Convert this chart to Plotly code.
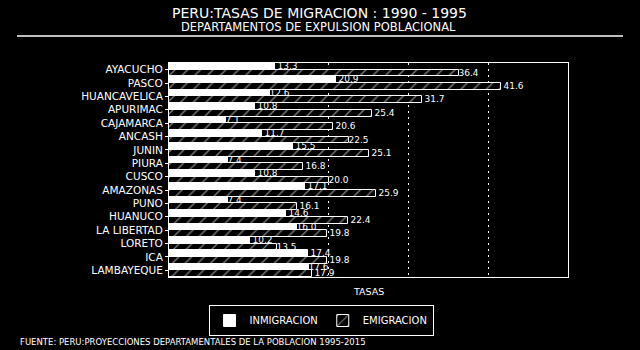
import plotly.graph_objects as go

departamentos = ["AYACUCHO", "PASCO", "HUANCAVELICA", "APURIMAC", "CAJAMARCA", "ANCASH",
                 "JUNIN", "PIURA", "CUSCO", "AMAZONAS", "PUNO", "HUANUCO", "LA LIBERTAD",
                 "LORETO", "ICA", "LAMBAYEQUE"]
inmigracion = [13.3, 20.9, 12.6, 10.8, 7.1, 11.7, 15.5, 7.4, 10.8, 17.1, 7.4, 14.6, 16.0, 10.2, 17.4, 17.6]
emigracion = [36.4, 41.6, 31.7, 25.4, 20.6, 22.5, 25.1, 16.8, 20.0, 25.9, 16.1, 22.4, 19.8, 13.5, 19.8, 17.9]
grid_vals = [20, 30, 40]

FONT = "DejaVu Sans"

fig = go.Figure()
fig.add_trace(go.Bar(
    y=departamentos, x=inmigracion, orientation="h", name="INMIGRACION",
    marker=dict(color="white", line=dict(color="white", width=1)),
    text=[f"{v:.1f}" for v in inmigracion], textposition="outside",
    textfont=dict(family=FONT, size=9, color="white"), cliponaxis=False,
))
fig.add_trace(go.Bar(
    y=departamentos, x=emigracion, orientation="h", name="EMIGRACION",
    marker=dict(color="black", line=dict(color="white", width=1),
                pattern=dict(shape="/", fgcolor="white", bgcolor="black", size=9, solidity=0.15)),
    text=[f"{v:.1f}" for v in emigracion], textposition="outside",
    textfont=dict(family=FONT, size=9, color="white"), cliponaxis=False,
))

L, R, T, B = 169, 72, 63, 73
W, H = 640, 350
pw, ph = W - L - R, H - T - B

def px(x):
    return (x - L) / pw

def py(y):
    return (H - B - y) / ph

fig.update_layout(
    width=W, height=H,
    margin=dict(l=L, r=R, t=T, b=B, pad=0),
    paper_bgcolor="black", plot_bgcolor="black",
    barmode="group", bargap=0, bargroupgap=0,
    font=dict(family=FONT, color="white"),
    showlegend=True,
    legend=dict(orientation="h", xref="container", yref="container",
                x=321 / W, xanchor="center", y=1 - 305 / H, yanchor="top",
                bgcolor="black", bordercolor="white", borderwidth=1,
                font=dict(family=FONT, size=10, color="white"),
                itemwidth=30, traceorder="normal"),
    xaxis=dict(range=[0, 50], showticklabels=False, ticks="",
               tickvals=grid_vals, showgrid=True, gridcolor="white", griddash="2px,4px",
               gridwidth=1, zeroline=False,
               showline=True, linecolor="white", linewidth=1, mirror=True),
    yaxis=dict(autorange="reversed", showgrid=False, ticks="outside", ticklen=3,
               tickcolor="white", tickfont=dict(family=FONT, size=10.5, color="white"),
               showline=True, linecolor="white", linewidth=1, mirror=True),
)

fig.update_traces(constraintext="none")

annotations = [
    dict(text="PERU:TASAS DE MIGRACION : 1990 - 1995", x=px(319), y=py(13),
         font=dict(family=FONT, size=14, color="white")),
    dict(text="DEPARTAMENTOS DE EXPULSION POBLACIONAL", x=px(318), y=py(27),
         font=dict(family=FONT, size=11.5, color="white")),
    dict(text="TASAS", x=0.5, y=py(291),
         font=dict(family=FONT, size=9.5, color="white")),
    dict(text="FUENTE: PERU:PROYECCIONES DEPARTAMENTALES DE LA POBLACION 1995-2015",
         x=px(18), y=py(342), xanchor="left",
         font=dict(family=FONT, size=8.5, color="white")),
]
for a in annotations:
    a.setdefault("xanchor", "center")
    fig.add_annotation(xref="paper", yref="paper", yanchor="middle", showarrow=False, **a)

fig.add_shape(type="line", xref="paper", yref="paper",
              x0=px(17), x1=px(623), y0=py(36), y1=py(36),
              line=dict(color="white", width=1.5))

fig.write_html("out.html")
